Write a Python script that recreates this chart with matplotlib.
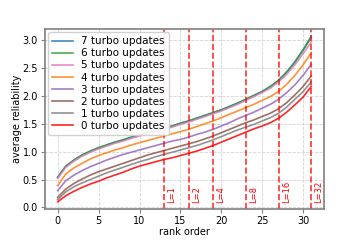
import matplotlib
matplotlib.use("Agg")
import matplotlib.pyplot as plt

rank = list(range(32))

rel_0 = [0.10, 0.21, 0.29, 0.36, 0.42, 0.47, 0.53, 0.58, 0.63, 0.69, 0.74, 0.78, 0.82, 0.86, 0.89, 0.93,
         0.97, 1.01, 1.06, 1.11, 1.17, 1.23, 1.29, 1.35, 1.41, 1.46, 1.52, 1.60, 1.71, 1.84, 1.98, 2.17]
rel_1 = [0.14, 0.28, 0.37, 0.44, 0.50, 0.56, 0.62, 0.67, 0.72, 0.77, 0.82, 0.86, 0.91, 0.95, 0.99, 1.03,
         1.07, 1.11, 1.16, 1.21, 1.27, 1.33, 1.39, 1.44, 1.49, 1.55, 1.61, 1.69, 1.80, 1.94, 2.08, 2.25]
rel_2 = [0.18, 0.33, 0.43, 0.51, 0.58, 0.64, 0.69, 0.74, 0.79, 0.84, 0.89, 0.94, 0.98, 1.02, 1.06, 1.10,
         1.14, 1.18, 1.23, 1.28, 1.34, 1.40, 1.46, 1.52, 1.57, 1.63, 1.69, 1.77, 1.88, 2.02, 2.17, 2.36]
rel_3 = [0.30, 0.48, 0.58, 0.66, 0.73, 0.79, 0.85, 0.90, 0.95, 0.99, 1.03, 1.07, 1.11, 1.15, 1.19, 1.22,
         1.26, 1.31, 1.35, 1.40, 1.46, 1.52, 1.59, 1.65, 1.71, 1.78, 1.85, 1.94, 2.06, 2.20, 2.37, 2.57]
rel_4 = [0.39, 0.60, 0.71, 0.79, 0.87, 0.93, 0.98, 1.03, 1.07, 1.12, 1.16, 1.20, 1.24, 1.28, 1.32, 1.36,
         1.40, 1.45, 1.50, 1.55, 1.61, 1.67, 1.73, 1.79, 1.85, 1.92, 1.99, 2.08, 2.21, 2.37, 2.56, 2.78]
rel_5 = [0.52, 0.72, 0.83, 0.92, 0.99, 1.05, 1.10, 1.15, 1.19, 1.24, 1.28, 1.32, 1.36, 1.40, 1.44, 1.49,
         1.53, 1.58, 1.63, 1.68, 1.73, 1.79, 1.85, 1.92, 1.99, 2.06, 2.14, 2.25, 2.39, 2.56, 2.76, 2.97]
rel_6 = [0.54, 0.74, 0.85, 0.94, 1.01, 1.07, 1.12, 1.17, 1.21, 1.26, 1.30, 1.34, 1.38, 1.42, 1.46, 1.51,
         1.55, 1.60, 1.65, 1.70, 1.75, 1.81, 1.87, 1.94, 2.01, 2.08, 2.17, 2.28, 2.43, 2.61, 2.82, 3.05]
rel_7 = [0.54, 0.74, 0.85, 0.94, 1.01, 1.07, 1.12, 1.17, 1.21, 1.26, 1.30, 1.34, 1.38, 1.42, 1.46, 1.51,
         1.55, 1.60, 1.65, 1.70, 1.75, 1.81, 1.87, 1.94, 2.01, 2.08, 2.17, 2.28, 2.43, 2.61, 2.83, 3.07]

series = [rel_7, rel_6, rel_5, rel_4, rel_3, rel_2, rel_1, rel_0]
labels = ["7 turbo updates", "6 turbo updates", "5 turbo updates", "4 turbo updates",
          "3 turbo updates", "2 turbo updates", "1 turbo updates", "0 turbo updates"]
colors = ["tab:blue", "tab:green", "tab:pink", "tab:orange",
          "tab:purple", "tab:brown", "tab:gray", "red"]

cut_pos = [13, 16, 19, 23, 27, 31]
cut_labels = ["L=1", "L=2", "L=4", "L=8", "L=16", "L=32"]

fig, ax = plt.subplots(figsize=(3.6, 2.4), dpi=100)
fig.subplots_adjust(left=0.125, right=0.9, bottom=0.129, top=0.879)

for y, lab, c in zip(series, labels, colors):
    ax.plot(rank, y, color=c, label=lab, linewidth=1.2, alpha=0.85)

# decoding list size markers
for x, t in zip(cut_pos, cut_labels):
    ax.axvline(x, color="red", linestyle="--", linewidth=1.2, alpha=0.8)
    ax.text(x + 0.4, 0.08, t, color="red", rotation=90, fontsize=6,
            ha="left", va="bottom")

ax.set_xlim(-1.55, 32.55)
ax.set_ylim(-0.03, 3.2)
ax.set_xticks([0, 5, 10, 15, 20, 25, 30])
ax.set_yticks([0.0, 0.5, 1.0, 1.5, 2.0, 2.5, 3.0])
ax.tick_params(labelsize=7, length=3, pad=2, color="gray")
ax.grid(True, linestyle="--", color="lightgray", linewidth=0.6)
for s in ax.spines.values():
    s.set_color("gray")
    s.set_linewidth(1.2)

ax.set_xlabel("rank order", fontsize=7, labelpad=1)
ax.set_ylabel("average reliability", fontsize=7, labelpad=0.5)
ax.legend(loc="upper left", fontsize=7.5, handlelength=2, labelspacing=0.2,
          borderaxespad=0.3, framealpha=0.9)

fig.savefig("out.png", dpi=100)
